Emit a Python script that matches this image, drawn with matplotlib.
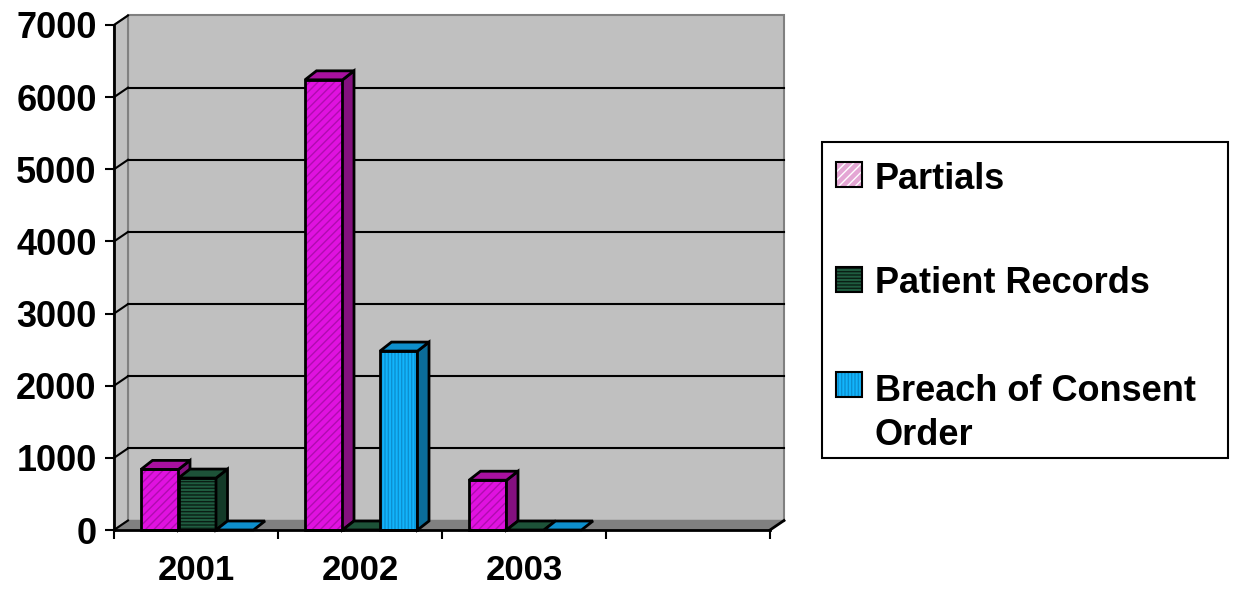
import numpy as np
import matplotlib.pyplot as plt
from matplotlib.patches import Polygon, Rectangle
from matplotlib.transforms import Affine2D

plt.rcParams['font.family'] = ['Liberation Sans', 'DejaVu Sans']
plt.rcParams['font.weight'] = 'bold'
plt.rcParams['hatch.linewidth'] = 1.0

# data
years = ['2001', '2002', '2003', '']
series = ['Partials', 'Patient Records', 'Breach of Consent\nOrder']
partials = [840, 6240, 690, np.nan]
patient_records = [720, 0, 0, np.nan]
breach = [0, 2480, 0, np.nan]
yticks = [0, 1000, 2000, 3000, 4000, 5000, 6000, 7000]

values = [partials, patient_records, breach]
front_cols = ['#e012e0', '#1f5c40', '#12b4fb']
hatch_cols = ['#b00cb0', '#0a1e14', '#0c8fd0']
side_cols = ['#84107f', '#143a28', '#0b6c99']
top_cols = ['#a8119f', '#1d5238', '#0e8fcc']
hatches = ['////', '-----', '|||||']
legend_face = ['#e4a6d4', '#1f5c40', '#12b4fb']
legend_hatch = ['white', '#0a1e14', '#0c8fd0']

W, H = 1238, 590
fig = plt.figure(figsize=(W / 100, H / 100), dpi=100)
ax = fig.add_axes([114 / W, 1 - 530 / H, 656 / W, 505 / H])
ax.set_xlim(0, 4)
ax.set_ylim(0, 7000)
ax.set_facecolor('none')

# pixel -> data helpers for the fake 3d depth
px_x = 4 / 656
px_y = 7000 / 505
dxw, dyw = 14 * px_x, 9.5 * px_y     # wall depth
dxb, dyb = 11.5 * px_x, 9 * px_y     # bar depth
bar_w = 37.5 * px_x
grp_off = 27 * px_x


def poly(pts, **kw):
    p = Polygon(pts, closed=True, clip_on=False, **kw)
    ax.add_patch(p)
    return p


# walls and floor
top = 7000
poly([(dxw, dyw), (4 + dxw, dyw), (4 + dxw, top + dyw), (dxw, top + dyw)],
     facecolor='#c0c0c0', edgecolor='#808080', lw=1.5, zorder=0.5)
poly([(0, 0), (dxw, dyw), (dxw, top + dyw), (0, top)],
     facecolor='#c0c0c0', edgecolor='#808080', lw=1.5, zorder=0.5)
poly([(0, 0), (4, 0), (4 + dxw, dyw), (dxw, dyw)],
     facecolor='#808080', edgecolor='#808080', lw=1, zorder=0.6)
for v in yticks[1:-1]:
    ax.plot([dxw, 4 + dxw], [v + dyw, v + dyw], color='black', lw=1.5,
            zorder=0.7, clip_on=False)
for v in yticks:
    ax.plot([0, dxw], [v, v + dyw], color='black', lw=1.5, zorder=0.7,
            clip_on=False)
ax.plot([4, 4 + dxw], [0, dyw], color='black', lw=2, zorder=0.7, clip_on=False)

# bars
z = 2
for c in range(len(years)):
    for i, vals in enumerate(values):
        h = vals[c]
        if np.isnan(h):
            continue
        x0 = c + grp_off + i * bar_w
        x1 = x0 + bar_w
        if h > 0:
            front = [(x0, 0), (x1, 0), (x1, h), (x0, h)]
            poly(front, facecolor=front_cols[i], edgecolor=hatch_cols[i],
                 hatch=hatches[i], lw=0, zorder=z)
            poly(front, fill=False, edgecolor='black', lw=2, zorder=z + 0.1)
            side = [(x1, 0), (x1 + dxb, dyb), (x1 + dxb, h + dyb), (x1, h)]
            poly(side, facecolor=side_cols[i], edgecolor='black', lw=2,
                 zorder=z + 0.2)
        tp = [(x0, h), (x1, h), (x1 + dxb, h + dyb), (x0 + dxb, h + dyb)]
        poly(tp, facecolor=top_cols[i], edgecolor='black', lw=2, zorder=z + 0.3)
        z += 1

# axes, ticks, labels
for s in ['top', 'right']:
    ax.spines[s].set_visible(False)
for s in ['left', 'bottom']:
    ax.spines[s].set_linewidth(2)
    ax.spines[s].set_zorder(50)
ax.set_yticks(yticks)
ax.set_yticklabels([str(v) for v in yticks])
ax.tick_params(axis='y', length=6.5, width=1.5, pad=6, labelsize=26)
ax.set_xticks(np.arange(0, 5))
ax.set_xticklabels([])
ax.tick_params(axis='x', which='major', length=6.5, width=1.5)
ax.set_xticks(np.arange(len(years)) + 0.5, minor=True)
ax.set_xticklabels(years, minor=True)
ax.tick_params(axis='x', which='minor', length=0, pad=17, labelsize=25)

# legend, laid out in pixel coordinates from the top-left corner
pix = Affine2D().scale(1 / W, -1 / H).translate(0, 1) + fig.transFigure
fig.add_artist(Rectangle((822, 142), 406, 316, transform=pix, facecolor='white',
                         edgecolor='black', lw=1.5))
handle_y = [162, 267, 372]
text_y = [189, 293, 445]   # baseline of the last line of each label
for i in range(3):
    fig.add_artist(Rectangle((836, handle_y[i]), 26, 25, transform=pix,
                             facecolor=legend_face[i], edgecolor=legend_hatch[i],
                             hatch=hatches[i], lw=0))
    fig.add_artist(Rectangle((836, handle_y[i]), 26, 25, transform=pix,
                             fill=False, edgecolor='black', lw=1.5))
    fig.text(875 / W, 1 - text_y[i] / H, series[i], fontsize=26,
             va='baseline', ha='left', linespacing=1.32)

fig.savefig('out.png', dpi=100)
